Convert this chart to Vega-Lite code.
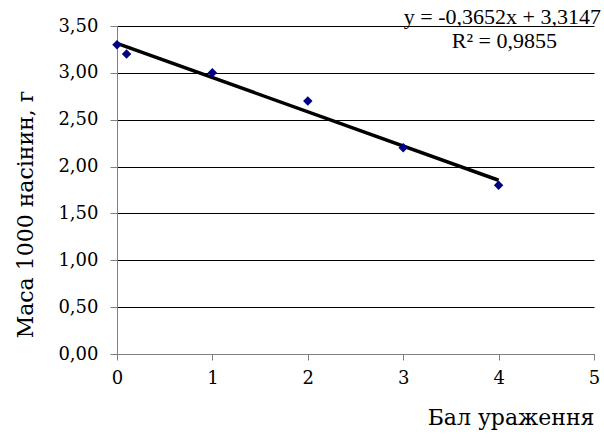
{
  "$schema": "https://vega.github.io/schema/vega-lite/v6.json",
  "width": 477,
  "height": 328,
  "autosize": "none",
  "padding": {"left": 117, "top": 26, "right": 10, "bottom": 84},
  "background": "white",
  "config": {
    "view": {"stroke": null}
  },
  "datasets": {
    "pts": [
      {"bal": 0, "masa": 3.3},
      {"bal": 0.1, "masa": 3.2},
      {"bal": 1, "masa": 3.0},
      {"bal": 2, "masa": 2.7},
      {"bal": 3, "masa": 2.2},
      {"bal": 4, "masa": 1.8}
    ],
    "trend": [
      {"bal": 0, "masa": 3.3147},
      {"bal": 4, "masa": 1.8539}
    ],
    "labels": [
      {"bal": 4.04, "masa": 3.6, "text": "y = -0,3652x + 3,3147"},
      {"bal": 4.06, "masa": 3.34, "text": "R² = 0,9855"}
    ]
  },
  "layer": [
    {
      "data": {"name": "trend"},
      "mark": {"type": "line", "color": "black", "strokeWidth": 3.5, "clip": false},
      "encoding": {
        "x": {
          "field": "bal", "type": "quantitative",
          "scale": {"domain": [0, 5], "nice": false},
          "axis": {
            "title": "Бал ураження", "titleFont": "DejaVu Serif", "titleFontSize": 22, "titleFontWeight": "normal", "titleColor": "black", "titleAnchor": "end", "titlePadding": 20,
            "labelFont": "DejaVu Serif", "labelFontSize": 18, "labelColor": "black", "labelPadding": 9, "values": [0,1,2,3,4,5], "labelOverlap": false, "format": "d",
            "grid": false, "domainColor": "#808080", "tickColor": "#808080", "tickSize": 6, "labelFlush": false
          }
        },
        "y": {
          "field": "masa", "type": "quantitative",
          "scale": {"domain": [0, 3.5], "nice": false},
          "axis": {
            "title": "Маса 1000 насінин, г", "titleFont": "DejaVu Serif", "titleFontSize": 22, "titleFontWeight": "normal", "titleColor": "black", "titlePadding": 20, "titleY": 188,
            "labelFont": "DejaVu Serif", "labelFontSize": 18, "labelColor": "black", "labelPadding": 12, "values": [0,0.5,1,1.5,2,2.5,3,3.5], "labelOverlap": false,
            "labelExpr": "replace(format(datum.value, '.2f'), '.', ',')",
            "grid": true, "gridColor": "black", "gridOpacity": 1, "gridWidth": 1,
            "domainColor": "#808080", "tickColor": "#808080", "tickSize": 7
          }
        }
      }
    },
    {
      "data": {"name": "pts"},
      "mark": {"type": "point", "shape": "diamond", "filled": true, "color": "#000080", "size": 90, "opacity": 1, "clip": false},
      "encoding": {
        "x": {"field": "bal", "type": "quantitative"},
        "y": {"field": "masa", "type": "quantitative"}
      }
    },
    {
      "data": {"name": "labels"},
      "mark": {"type": "text", "fontSize": 22, "font": "Liberation Serif", "color": "black", "clip": false},
      "encoding": {
        "x": {"field": "bal", "type": "quantitative"},
        "y": {"field": "masa", "type": "quantitative"},
        "text": {"field": "text"}
      }
    }
  ]
}
